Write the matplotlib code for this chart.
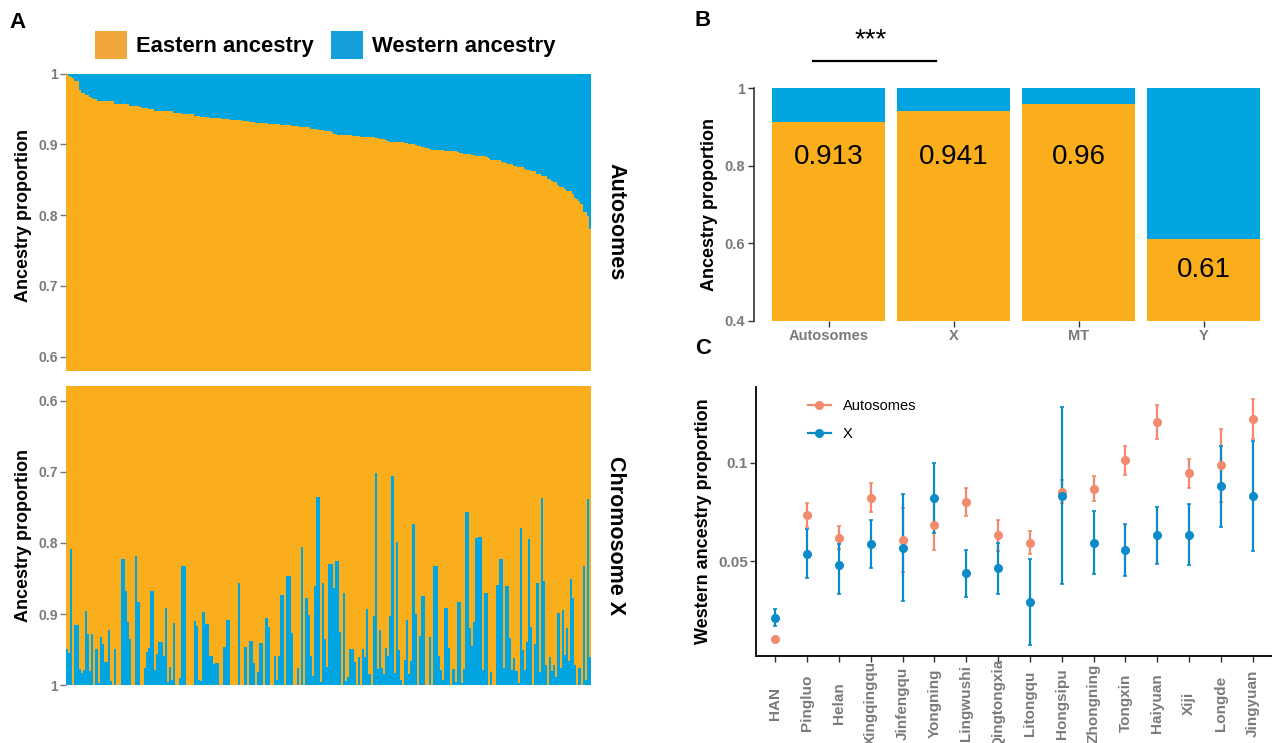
import numpy as np
import matplotlib
matplotlib.use("Agg")
import matplotlib.pyplot as plt
from matplotlib.patches import Patch
from matplotlib.lines import Line2D

plt.rcParams['font.family'] = ['Liberation Sans', 'DejaVu Sans']

W, H = 1272, 743
ORANGE = '#FAAE1B'
BLUE = '#00A4E1'
GREY = '#7A7A7A'
AUTO_COL = '#F28B6E'
X_COL = '#0B8BC7'

# ---- panel A: eastern ancestry per individual (sorted by autosomes) ----
auto_east = [
    1.000, 0.997, 0.996, 0.994, 0.990, 0.990, 0.977, 0.973, 0.973, 0.970,
    0.970, 0.967, 0.966, 0.964, 0.964, 0.962, 0.962, 0.962, 0.962, 0.961,
    0.961, 0.961, 0.961, 0.958, 0.958, 0.957, 0.957, 0.957, 0.957, 0.957,
    0.955, 0.954, 0.954, 0.954, 0.954, 0.953, 0.952, 0.952, 0.952, 0.950,
    0.950, 0.950, 0.948, 0.948, 0.948, 0.948, 0.948, 0.947, 0.947, 0.947,
    0.947, 0.945, 0.944, 0.944, 0.944, 0.943, 0.943, 0.943, 0.943, 0.943,
    0.943, 0.941, 0.941, 0.940, 0.939, 0.939, 0.939, 0.939, 0.937, 0.937,
    0.937, 0.937, 0.937, 0.937, 0.936, 0.936, 0.936, 0.936, 0.934, 0.934,
    0.934, 0.934, 0.934, 0.934, 0.933, 0.933, 0.933, 0.932, 0.932, 0.932,
    0.930, 0.930, 0.930, 0.930, 0.930, 0.930, 0.929, 0.929, 0.929, 0.929,
    0.929, 0.929, 0.927, 0.927, 0.927, 0.927, 0.927, 0.926, 0.926, 0.926,
    0.926, 0.925, 0.925, 0.925, 0.925, 0.925, 0.922, 0.922, 0.922, 0.922,
    0.920, 0.920, 0.920, 0.919, 0.919, 0.919, 0.918, 0.915, 0.915, 0.913,
    0.913, 0.913, 0.913, 0.913, 0.913, 0.913, 0.912, 0.912, 0.912, 0.912,
    0.910, 0.910, 0.910, 0.910, 0.910, 0.910, 0.910, 0.909, 0.909, 0.908,
    0.908, 0.908, 0.906, 0.905, 0.903, 0.903, 0.903, 0.903, 0.903, 0.903,
    0.903, 0.902, 0.902, 0.901, 0.901, 0.901, 0.899, 0.898, 0.898, 0.897,
    0.896, 0.895, 0.895, 0.893, 0.892, 0.892, 0.892, 0.892, 0.892, 0.892,
    0.891, 0.891, 0.891, 0.891, 0.891, 0.891, 0.889, 0.888, 0.888, 0.886,
    0.886, 0.886, 0.886, 0.885, 0.885, 0.884, 0.884, 0.884, 0.884, 0.884,
    0.882, 0.881, 0.878, 0.878, 0.878, 0.878, 0.878, 0.875, 0.875, 0.874,
    0.872, 0.872, 0.872, 0.869, 0.869, 0.868, 0.868, 0.868, 0.865, 0.864,
    0.864, 0.862, 0.862, 0.862, 0.858, 0.858, 0.856, 0.855, 0.855, 0.851,
    0.851, 0.848, 0.847, 0.847, 0.842, 0.840, 0.840, 0.837, 0.834, 0.834,
    0.834, 0.830, 0.825, 0.823, 0.820, 0.816, 0.804, 0.804, 0.799, 0.780,
]

x_east = [
    0.949, 0.954, 0.808, 1.0, 0.915, 0.915, 0.977, 0.983, 0.979, 0.895,
    0.928, 0.980, 0.928, 1.0, 0.949, 0.997, 0.932, 0.942, 0.967, 0.967,
    0.922, 0.994, 1.0, 0.949, 1.0, 1.0, 0.822, 0.822, 0.867, 0.911,
    0.935, 1.0, 1.0, 0.819, 0.883, 1.0, 1.0, 0.976, 0.953, 0.948,
    0.868, 0.868, 0.979, 0.956, 0.939, 0.939, 0.959, 0.891, 0.996, 0.975,
    0.993, 0.912, 1.0, 1.0, 0.990, 0.833, 0.833, 1.0, 1.0, 1.0,
    1.0, 0.909, 0.917, 0.992, 0.994, 0.897, 0.914, 0.914, 0.959, 0.959,
    0.970, 0.969, 0.969, 1.0, 1.0, 0.946, 0.908, 0.908, 1.0, 1.0,
    1.0, 1.0, 0.856,
    1.0, 1.0, 0.946, 1.0, 0.938, 0.938, 0.969, 1.0, 0.982, 0.941,
    0.941, 1.0, 0.905, 0.918, 1.0, 1.0, 0.959, 0.992, 0.959, 0.873,
    0.873, 0.999, 0.847, 0.847, 0.926, 1.0, 1.0, 0.976, 1.0, 0.806,
    1.0, 0.877, 0.901, 0.959, 0.987, 0.861, 0.736, 0.736, 0.996, 0.856,
    0.935, 0.975, 0.830, 0.830, 0.863, 0.825, 0.825, 0.925, 1.0, 0.870,
    0.994, 0.989, 0.949, 0.949, 0.967, 1.0, 0.960, 1.0, 0.949, 0.960,
    0.893, 0.984, 1.0, 0.902, 0.702, 0.977, 0.922, 0.976, 0.984, 0.948,
    0.959, 0.902, 0.706, 0.983, 0.798, 0.950, 0.992, 1.0, 0.965, 0.908,
    0.984, 0.966, 0.774, 0.900, 1.0, 0.931,
    0.874, 0.874, 1.0, 1.0, 0.932, 1.0, 0.832, 0.832, 0.959, 0.979,
    0.993, 0.891, 0.891, 0.948, 1.0, 0.977, 0.996, 0.883, 0.883, 0.997,
    0.977, 0.757, 0.757, 0.919, 0.945, 0.911, 0.793, 0.791, 0.791, 0.979,
    0.870, 0.870, 1.0, 0.982, 1.0, 1.0, 0.859, 0.822, 0.822, 0.976,
    0.860, 0.860, 0.934, 0.979, 0.962, 0.980, 0.997, 0.779, 0.950, 0.979,
    0.939, 0.795, 0.918, 1.0, 0.942, 0.856, 0.982, 0.737, 0.853, 0.972,
    1.0, 0.960, 0.980, 0.972, 0.989, 0.898, 0.976, 0.894, 0.958, 0.919,
    0.966, 0.851, 0.878, 0.972, 1.0, 0.976, 1.0, 0.832, 0.992, 0.738,
    0.960,
]

a_ticks = [0.6, 0.7, 0.8, 0.9, 1.0]
a_ticklabels = ['0.6', '0.7', '0.8', '0.9', '1']

# ---- panel B ----
b_cats = ['Autosomes', 'X', 'MT', 'Y']
b_east = [0.913, 0.941, 0.96, 0.61]
b_label_y = [0.822, 0.822, 0.822, 0.531]   # where the value text sits

# ---- panel C ----
pops = ['HAN', 'Pingluo', 'Helan', 'Xingqingqu', 'Jinfengqu', 'Yongning',
        'Lingwushi', 'Qingtongxia', 'Litongqu', 'Hongsipu', 'Zhongning',
        'Tongxin', 'Haiyuan', 'Xiji', 'Longde', 'Jingyuan']
auto_mean = [0.0105, 0.0734, 0.0619, 0.0822, 0.0605, 0.0681, 0.0798, 0.0632,
             0.0593, 0.0851, 0.0866, 0.1012, 0.1209, 0.0946, 0.0987, 0.1224]
auto_lo = [0.0100, 0.0673, 0.0562, 0.0748, 0.0443, 0.0556, 0.0727, 0.0553,
           0.0535, 0.0795, 0.0803, 0.0938, 0.1122, 0.0873, 0.0802, 0.1119]
auto_hi = [0.0110, 0.0795, 0.0677, 0.0895, 0.0770, 0.0800, 0.0871, 0.0711,
           0.0652, 0.0910, 0.0930, 0.1087, 0.1295, 0.1020, 0.1173, 0.1326]
x_mean = [0.0212, 0.0537, 0.0480, 0.0585, 0.0568, 0.0819, 0.0437, 0.0463,
          0.0291, 0.0832, 0.0593, 0.0556, 0.0631, 0.0634, 0.0880, 0.0831]
x_lo = [0.0169, 0.0414, 0.0332, 0.0463, 0.0297, 0.0640, 0.0319, 0.0332,
        0.0073, 0.0383, 0.0434, 0.0424, 0.0487, 0.0480, 0.0673, 0.0551]
x_hi = [0.0254, 0.0661, 0.0585, 0.0709, 0.0841, 0.0999, 0.0555, 0.0593,
        0.0508, 0.1285, 0.0756, 0.0690, 0.0777, 0.0792, 0.1087, 0.1110]


def box(l, t, r, b):
    return [l / W, 1 - b / H, (r - l) / W, (b - t) / H]


def bold_ticks(ax):
    for t in ax.get_xticklabels() + ax.get_yticklabels():
        t.set_fontweight('bold')


def style_a(ax):
    for s in ax.spines.values():
        s.set_visible(False)
    ax.set_xticks([])
    ax.set_yticks(a_ticks)
    ax.set_yticklabels(a_ticklabels)
    ax.tick_params(axis='y', length=4, width=1, color=GREY, pad=2,
                   labelsize=10, labelcolor=GREY)
    bold_ticks(ax)


fig = plt.figure(figsize=(W / 100, H / 100), dpi=100)

# panel A, autosomes
ae = np.array(auto_east)
xa = np.arange(len(ae))
lo = 0.5795
bw = 1.06  # slight overlap so no white seams between bars
ax1 = fig.add_axes(box(66, 71, 591, 371))
ax1.bar(xa, ae - lo, bottom=lo, width=bw, color=ORANGE, linewidth=0, antialiased=False)
ax1.bar(xa, 1 - ae, bottom=ae, width=bw, color=BLUE, linewidth=0, antialiased=False)
ax1.set_xlim(-0.5, len(ae) - 0.5)
ax1.set_ylim(lo, 1.004)
style_a(ax1)

# panel A, chromosome X (reversed axis)
xe = np.array(x_east)
xx = np.arange(len(xe))
ax2 = fig.add_axes(box(66, 386, 591, 686))
ax2.bar(xx, xe - lo, bottom=lo, width=bw, color=ORANGE, linewidth=0, antialiased=False)
ax2.bar(xx, 1 - xe, bottom=xe, width=bw, color=BLUE, linewidth=0, antialiased=False)
ax2.set_xlim(-0.5, len(xe) - 0.5)
ax2.set_ylim(1.001, lo)
style_a(ax2)

fig.text(24 / W, 1 - 216 / H, 'Ancestry proportion', rotation=90, fontsize=13,
         fontweight='bold', ha='center', va='center')
fig.text(24 / W, 1 - 536 / H, 'Ancestry proportion', rotation=90, fontsize=13,
         fontweight='bold', ha='center', va='center')
fig.text(616 / W, 1 - 222 / H, 'Autosomes', rotation=270, fontsize=15.5,
         fontweight='bold', ha='center', va='center')
fig.text(616 / W, 1 - 536 / H, 'Chromosome X', rotation=270, fontsize=15.5,
         fontweight='bold', ha='center', va='center')

leg_handles = [Patch(facecolor='#F0A63A', edgecolor='none'),
               Patch(facecolor='#129FDB', edgecolor='none')]
fig.legend(leg_handles, ['Eastern ancestry', 'Western ancestry'], loc='center',
           bbox_to_anchor=(325 / W, 1 - 45 / H), ncol=2, frameon=False,
           prop={'size': 15.8, 'weight': 'bold'}, handlelength=1.45, handleheight=1.65,
           handletextpad=0.4, columnspacing=0.8)

# panel B
be = np.array(b_east)
xb = np.arange(1, len(b_cats) + 1)
ax3 = fig.add_axes(box(753.5, 88, 1272, 321))
ax3.bar(xb, be, width=0.9, color=ORANGE, linewidth=0)
ax3.bar(xb, 1 - be, bottom=be, width=0.9, color=BLUE, linewidth=0)
for xi, v, ly in zip(xb, be, b_label_y):
    ax3.text(xi, ly, f'{v:g}', ha='center', va='center', fontsize=20)
ax3.set_xlim(0.4, 4.548)
ax3.set_ylim(0.4, 1.0)
for s in ['top', 'right', 'bottom']:
    ax3.spines[s].set_visible(False)
ax3.spines['left'].set_color('#333333')
ax3.spines['left'].set_linewidth(1.2)
ax3.set_xticks(xb)
ax3.set_xticklabels(b_cats)
ax3.set_yticks([0.4, 0.6, 0.8, 1.0])
ax3.set_yticklabels(['0.4', '0.6', '0.8', '1'])
ax3.tick_params(length=4, width=1, color='#333333', labelsize=10.5, labelcolor=GREY, pad=2)
bold_ticks(ax3)
ax3.set_ylabel('Ancestry proportion', fontsize=13, fontweight='bold', labelpad=5)
ax3.plot([0.876, 1.86], [1.0695, 1.0695], color='black', lw=1.6, clip_on=False)
ax3.text(1.34, 1.122, '***', ha='center', va='center', fontsize=20)

# panel C
xc = np.arange(1, len(pops) + 1)
am, al, ah = np.array(auto_mean), np.array(auto_lo), np.array(auto_hi)
xm, xl, xh = np.array(x_mean), np.array(x_lo), np.array(x_hi)
ax4 = fig.add_axes(box(756, 387, 1272, 656))
ax4.errorbar(xc, am, yerr=[am - al, ah - am], fmt='o', color=AUTO_COL, ms=5.5,
             elinewidth=1.6, capsize=1.5, capthick=1.2)
ax4.errorbar(xc, xm, yerr=[xm - xl, xh - xm], fmt='o', color=X_COL, ms=5.5,
             elinewidth=1.6, capsize=1.5, capthick=1.2)
ax4.set_xlim(0.4, 16.6)
ax4.set_ylim(0.0017, 0.1385)
for s in ['top', 'right']:
    ax4.spines[s].set_visible(False)
for s in ['left', 'bottom']:
    ax4.spines[s].set_color('black')
    ax4.spines[s].set_linewidth(1.3)
ax4.set_xticks(xc)
ax4.set_xticklabels(pops, rotation=90, va='center', ha='center')
ax4.set_yticks([0.05, 0.1])
ax4.set_yticklabels(['0.05', '0.1'])
ax4.tick_params(length=4, width=1, color='#333333', labelsize=11, labelcolor=GREY, pad=2)
ax4.tick_params(axis='x', labelsize=11, pad=30)
bold_ticks(ax4)
ax4.set_ylabel('Western ancestry proportion', fontsize=13, fontweight='bold', labelpad=4)
c_handles = [Line2D([0], [0], color=AUTO_COL, marker='o', ms=5.5, lw=1.6),
             Line2D([0], [0], color=X_COL, marker='o', ms=5.5, lw=1.6)]
ax4.legend(c_handles, ['Autosomes', 'X'], loc='upper left', bbox_to_anchor=(0.075, 1.005),
           frameon=False, fontsize=10.5, handlelength=1.6, labelspacing=0.95)

fig.text(9 / W, 1 - 22 / H, 'A', fontsize=16, fontweight='bold', ha='left', va='center')
fig.text(695 / W, 1 - 20 / H, 'B', fontsize=16, fontweight='bold', ha='left', va='center')
fig.text(695 / W, 1 - 348 / H, 'C', fontsize=16, fontweight='bold', ha='left', va='center')

fig.savefig('out.png', dpi=100)
